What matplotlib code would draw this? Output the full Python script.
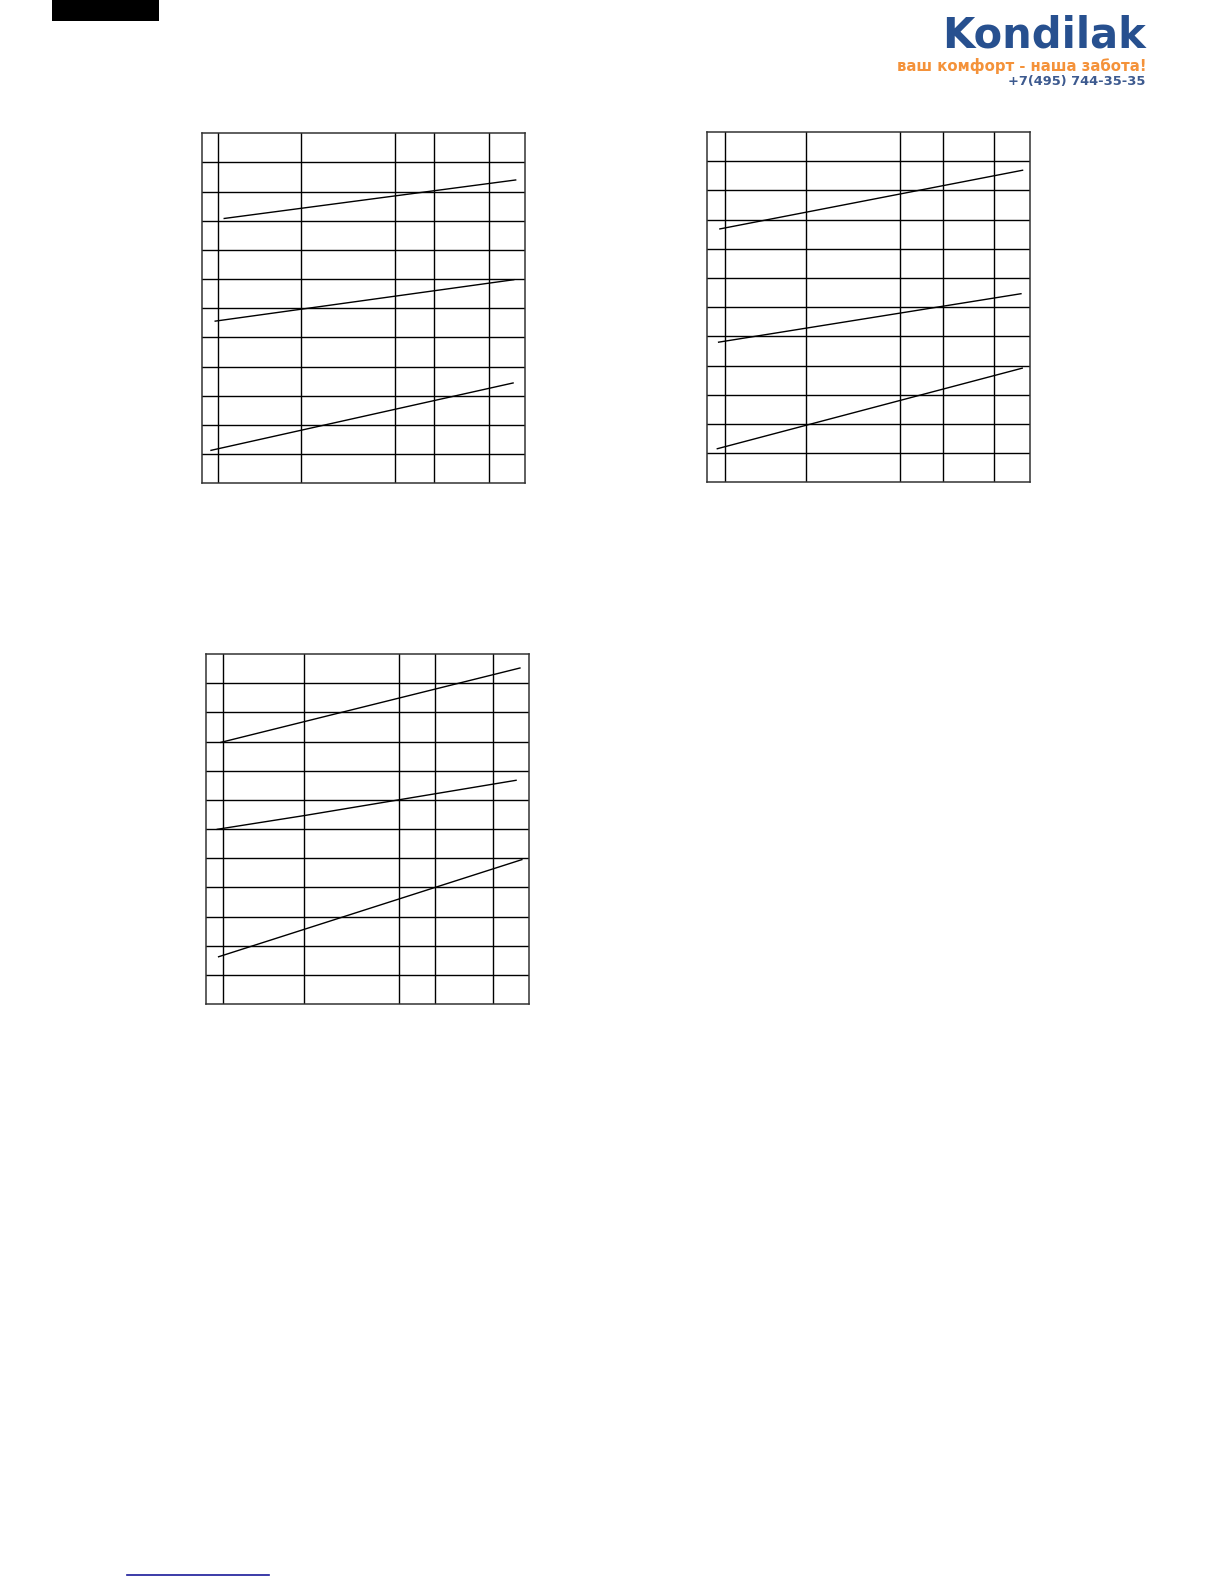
# -*- coding: utf-8 -*-

"""
Scanned manual page: three blank grid charts with three rising lines each
"""

import matplotlib.pyplot as plt
from matplotlib.patches import Rectangle
from matplotlib.lines import Line2D

# column boundaries of each grid, in % of the chart width
cols_a = [5.0, 30.7, 59.9, 72.0, 89.0]
cols_b = [5.6, 30.7, 59.8, 73.1, 88.9]
cols_c = [5.4, 30.4, 59.8, 71.0, 88.9]
n_rows = 12

# line end points (x in % of width, y in rows from bottom)
lines_a = [
    ([6.8, 97.2], [9.08, 10.40]),
    ([4.0, 96.6], [5.56, 6.98]),
    ([2.7, 96.4], [1.13, 3.44]),
]
lines_b = [
    ([3.9, 97.7], [8.68, 10.69]),
    ([3.5, 97.2], [4.80, 6.46]),
    ([3.1, 97.6], [1.15, 3.91]),
]
lines_c = [
    ([4.6, 97.2], [8.97, 11.52]),
    ([3.5, 30.4, 96.0], [5.99, 6.46, 7.67]),
    ([3.9, 97.8], [1.62, 4.95]),
]

brand = "Kondilak"
slogan = "ваш комфорт - наша забота!"
phone = "+7(495) 744-35-35"

W, H = 1224, 1584


def grid_chart(fig, rect, cols, lines):
    ax = fig.add_axes(rect)
    ax.set_xlim(0, 100)
    ax.set_ylim(0, n_rows)
    for c in cols:
        ax.axvline(c, color="black", lw=1.0)
    for r in range(1, n_rows):
        ax.axhline(r, color="black", lw=1.0)
    for xs, ys in lines:
        ax.plot(xs, ys, color="black", lw=1.0)
    ax.set_xticks([])
    ax.set_yticks([])
    for sp in ax.spines.values():
        sp.set_color("#333333")
        sp.set_linewidth(1.1)
    return ax


def px_rect(left, top, right, bottom):
    return [left / W, 1 - bottom / H, (right - left) / W, (bottom - top) / H]


fig = plt.figure(figsize=(W / 100, H / 100), dpi=100)
fig.patch.set_facecolor("white")

grid_chart(fig, px_rect(202.3, 133.3, 524.7, 483.3), cols_a, lines_a)
grid_chart(fig, px_rect(707.3, 132.0, 1030.0, 482.3), cols_b, lines_b)
grid_chart(fig, px_rect(206.0, 654.0, 529.0, 1004.0), cols_c, lines_c)

# black tab at the top left
fig.add_artist(Rectangle((52 / W, 1 - 21 / H), 107 / W, 21 / H,
                         transform=fig.transFigure, color="black", lw=0))

# logo block
fig.text(1146 / W, 1 - 47 / H, brand, ha="right", va="baseline",
         fontsize=30, fontweight="bold", color="#27508f", family="DejaVu Sans")
fig.text(1147 / W, 1 - 58 / H, slogan, ha="right", va="top",
         fontsize=10.7, fontweight="bold", color="#f4923a", family="DejaVu Sans")
fig.text(1145 / W, 1 - 82 / H, phone, ha="right", va="center",
         fontsize=9.4, fontweight="bold", color="#3d5a8f", family="DejaVu Sans")

# footer link underline
fig.add_artist(Line2D([127 / W, 269 / W], [1 - 1575 / H, 1 - 1575 / H],
                      transform=fig.transFigure, color="#1a1a99", lw=1.2))

fig.savefig("out.png", dpi=100, facecolor="white")
